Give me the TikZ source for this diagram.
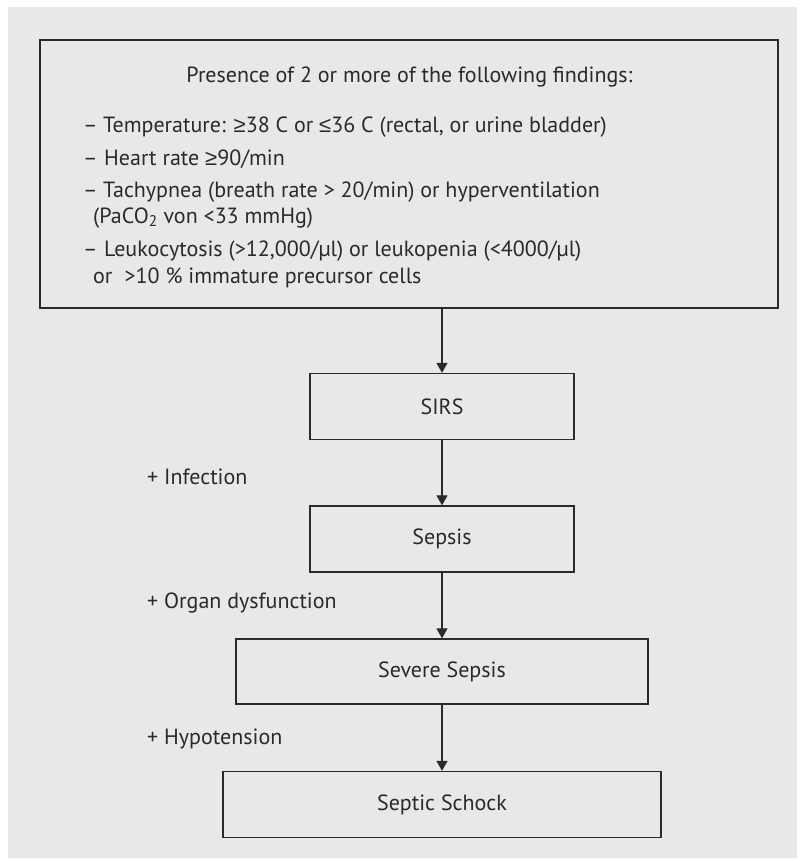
\documentclass[tikz,border=0pt]{standalone}
\usepackage{fontspec}
\setmainfont{PT Sans}
\newfontfamily\symfont{Liberation Sans}
\newcommand{\myge}{{\symfont ≥}}
\newcommand{\myle}{{\symfont ≤}}
\usetikzlibrary{arrows.meta}
\definecolor{bg}{HTML}{E8E8E8}
\definecolor{ln}{HTML}{2A2A2A}
\begin{document}
\begin{tikzpicture}[x=1pt,y=-1pt,
  box/.style={draw=ln,line width=1.3pt,minimum height=66pt,inner sep=0pt,font=\fontsize{22}{26}\selectfont,text=ln},
  txt/.style={anchor=base west,inner sep=0pt,font=\fontsize{22}{26}\selectfont,text=ln},
  arr/.style={draw=ln,line width=1.2pt,-{Triangle[length=10pt,width=11pt]}}]
\useasboundingbox (0,0) rectangle (802,861);
\fill[white] (0,0) rectangle (802,861);
\fill[bg] (8,7) rectangle (797,858);
% boxes
\node[box,minimum width=738pt,minimum height=268pt] (crit) at (409,174) {};
\node[box,minimum width=264pt] (sirs) at (442,406.5) {SIRS};
\node[box,minimum width=264pt] (sepsis) at (442,539) {Sepsis};
\node[box,minimum width=412pt,minimum height=65pt] (severe) at (442,671.5) {Severe Sepsis};
\node[box,minimum width=438pt] (shock) at (442,804.5) {Septic Schock};
% criteria text
\node[txt,anchor=base] (t0) at (409.5,83) {Presence of 2 or more of the following findings:};
\node[txt] (d1) at (83,133) {–};
\node[txt] (t1) at (103,133) {Temperature: \myge38 C or \myle36 C (rectal, or urine bladder)};
\node[txt] (d2) at (83,165) {–};
\node[txt] (t2) at (104,165) {Heart rate \myge90/min};
\node[txt] (d3) at (83,197) {–};
\node[txt] (t3) at (103,197) {Tachypnea (breath rate > 20/min) or hyperventilation};
\node[txt] (t3b) at (93,223) {(PaCO\textsubscript{2} von <33 mmHg)};
\node[txt] (d4) at (83,256) {–};
\node[txt] (t4) at (104,256) {Leukocytosis (>12,000/µl) or leukopenia (<4000/µl)};
\node[txt] (t4b) at (93,283) {or\hspace{0.55em}>10 \% immature precursor cells};
% side labels
\node[txt] (l1) at (147,484) {+ Infection};
\node[txt] (l2) at (147,608) {+ Organ dysfunction};
\node[txt] (l3) at (147,744) {+ Hypotension};
% arrows
\draw[arr] (sirs.north |- crit.south) -- (sirs.north);
\draw[arr] (sirs.south) -- (sepsis.north);
\draw[arr] (sepsis.south) -- (severe.north);
\draw[arr] (severe.south) -- (shock.north);
\end{tikzpicture}
\end{document}
